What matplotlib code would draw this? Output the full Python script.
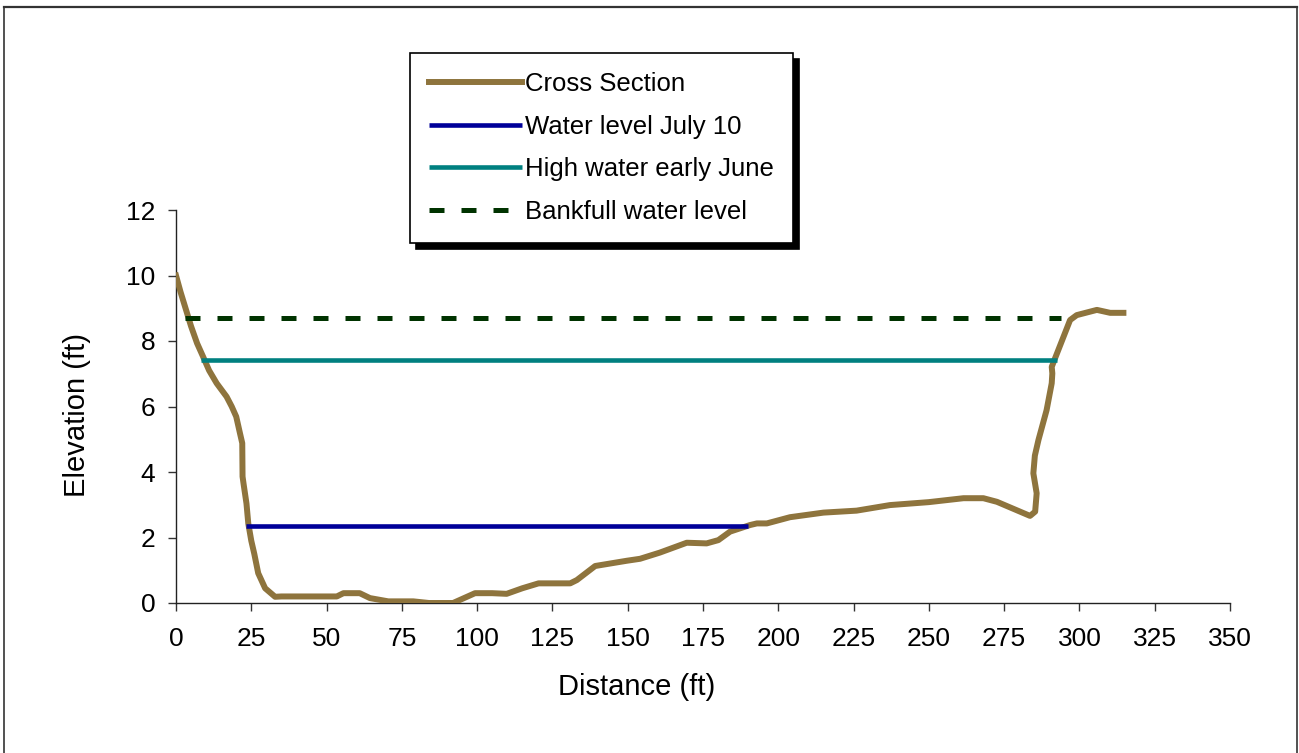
import matplotlib
matplotlib.use("Agg")
import matplotlib.pyplot as plt
from matplotlib.lines import Line2D

plt.rcParams['font.family'] = ['Liberation Sans', 'DejaVu Sans']

# ---- data ----
section_x = [0, 1.5, 3, 5, 7, 9, 11, 13.5, 16.8, 18.5, 20, 21.2, 22, 22.1, 22.5,
             23.4, 24, 25, 26, 27.3, 29.6, 32.9, 35, 40, 45, 50, 53.4, 55.6, 61,
             64.4, 70.5, 75, 78.8, 84, 88.8, 92, 99.3, 105, 109.8, 115, 120.4,
             125, 130.9, 133.1, 139.2, 149.7, 154.1, 160.7, 169.6, 176.2, 180.1,
             184, 187.3, 190.6, 192.9, 196.2, 203.9, 215, 226, 237.1, 250, 261.5,
             268.1, 272.6, 283.6, 285.3, 285.8, 284.7, 285.2, 286.4, 289.1, 290.8,
             291.0, 290.8, 291.9, 296.9, 299.1, 305.8, 310.2, 314.6]
section_y = [10.0, 9.5, 9.05, 8.45, 7.93, 7.52, 7.1, 6.71, 6.3, 6.0, 5.69, 5.2,
             4.88, 3.86, 3.6, 3.04, 2.43, 1.9, 1.5, 0.91, 0.45, 0.19, 0.2, 0.2,
             0.2, 0.2, 0.2, 0.3, 0.3, 0.15, 0.05, 0.05, 0.05, 0.0, 0.0, 0.0, 0.3,
             0.3, 0.28, 0.45, 0.6, 0.6, 0.6, 0.7, 1.13, 1.29, 1.35, 1.54, 1.84,
             1.82, 1.92, 2.18, 2.28, 2.38, 2.43, 2.43, 2.62, 2.76, 2.82, 2.99,
             3.08, 3.2, 3.2, 3.09, 2.66, 2.79, 3.35, 3.96, 4.5, 4.98, 5.89, 6.71,
             7.01, 7.21, 7.47, 8.64, 8.79, 8.95, 8.86, 8.86]

july_x = [23.2, 189.8]
july_y = [2.34, 2.34]
june_x = [8.2, 292.4]
june_y = [7.42, 7.42]
bankfull_x = [3, 294]
bankfull_y = [8.69, 8.69]

x_ticks = list(range(0, 351, 25))
y_ticks = list(range(0, 13, 2))

labels = ["Cross Section", "Water level July 10", "High water early June",
          "Bankfull water level"]

# ---- figure ----
fig = plt.figure(figsize=(12.99, 7.53), dpi=100)
ax = fig.add_axes([176/1299, 1-603/753, (1230-176)/1299, (603-210)/753])

brown = '#8E743D'
ax.plot(section_x, section_y, color=brown, lw=4.3, label=labels[0],
        solid_joinstyle='round', zorder=3)
ax.plot(july_x, july_y, color='#000099', lw=3.3, label=labels[1], zorder=4,
        solid_capstyle='butt')
ax.plot(june_x, june_y, color='#008080', lw=3.3, label=labels[2], zorder=4,
        solid_capstyle='butt')
ax.plot(bankfull_x, bankfull_y, color='#003300', lw=3.6, ls=(0, (3.0, 3.4)),
        label=labels[3], zorder=4)

ax.set_xlim(0, 350)
ax.set_ylim(0, 12)
ax.set_xticks(x_ticks)
ax.set_yticks(y_ticks)
ax.tick_params(direction='out', length=6, width=1, labelsize=19,
               color='#333333')
ax.tick_params(axis='x', pad=11)
ax.tick_params(axis='y', pad=9)
for s in ['top', 'right']:
    ax.spines[s].set_visible(False)
for s in ['left', 'bottom']:
    ax.spines[s].set_linewidth(1)
    ax.spines[s].set_color('#222222')

ax.set_xlabel("Distance (ft)", fontsize=21)
ax.set_ylabel("Elevation (ft)", fontsize=21)
ax.xaxis.set_label_coords((637-176)/1054, -(687-603)/393)
ax.xaxis.label.set_va('center')
ax.yaxis.set_label_coords((77-176)/1054, (603-415)/393)
ax.yaxis.label.set_va('center')

leg = ax.legend(loc='upper left', bbox_to_anchor=(410/1299, 1-53/753),
                bbox_transform=fig.transFigure, borderaxespad=0,
                fontsize=18.5, handlelength=3.6, handletextpad=0.12,
                labelspacing=0.72, borderpad=0.75, fancybox=False,
                framealpha=1, edgecolor='black',
                shadow={'ox': 4, 'oy': -4, 'color': 'black', 'alpha': 1})
leg.get_frame().set_linewidth(1.2)

# outer frame of the chart area
fig.add_artist(Line2D([4/1299, 4/1299], [0, 1-7/753], transform=fig.transFigure,
                      color='#333333', lw=1.2))
fig.add_artist(Line2D([4/1299, 1297/1299], [1-7/753, 1-7/753], transform=fig.transFigure,
                      color='#333333', lw=1.6))
fig.add_artist(Line2D([1297/1299, 1297/1299], [0, 1-7/753], transform=fig.transFigure,
                      color='#333333', lw=1.2))

fig.savefig("out.png", dpi=100)
